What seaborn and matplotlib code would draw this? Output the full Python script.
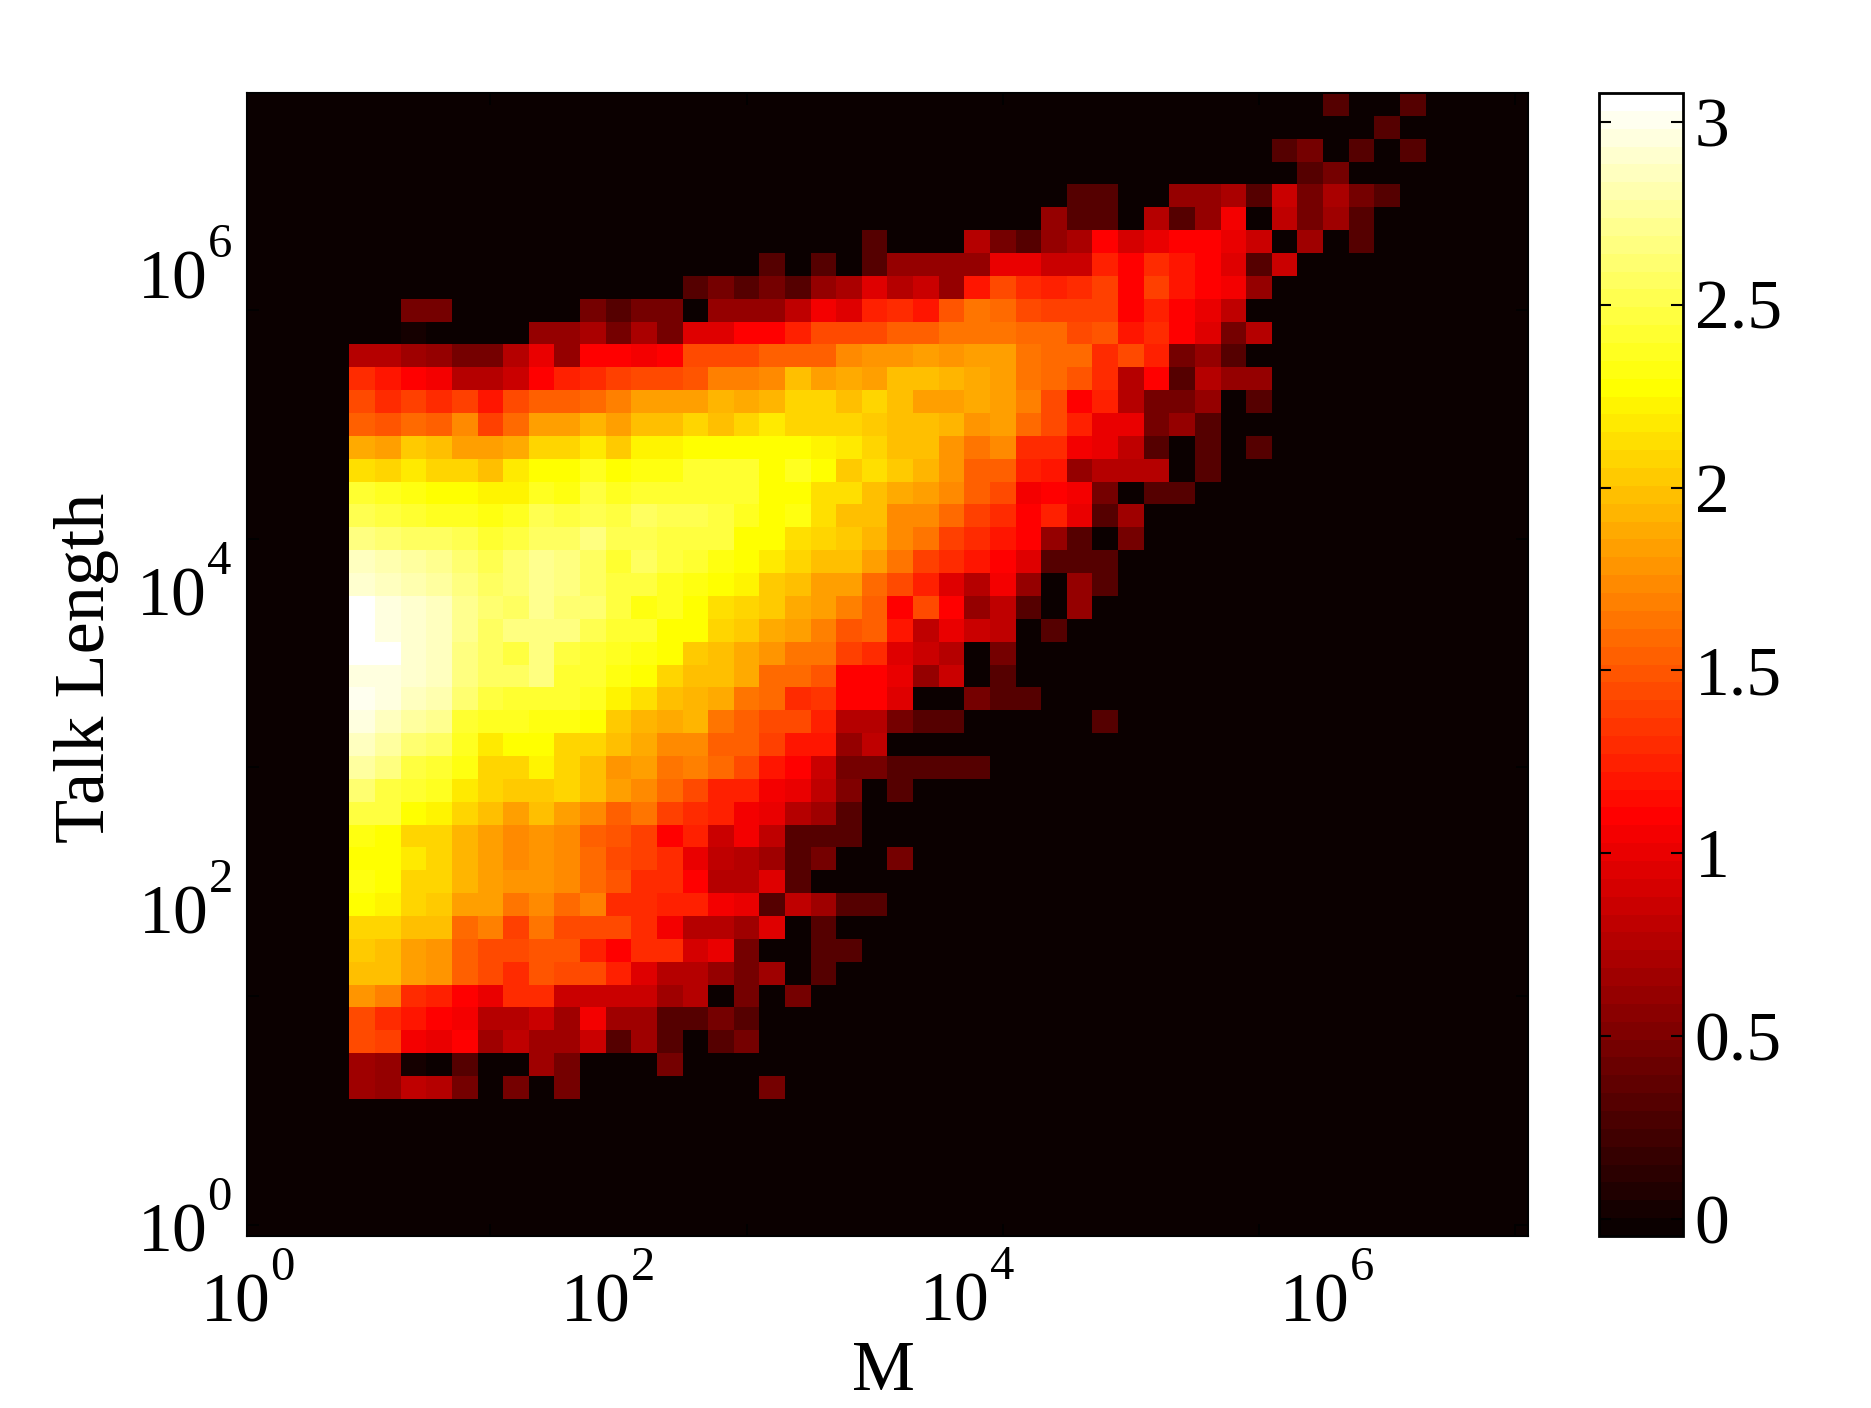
import numpy as np
import pandas as pd
import matplotlib
matplotlib.use("Agg")
import matplotlib.pyplot as plt
from matplotlib.colors import ListedColormap
from matplotlib import _mathtext
import seaborn as sns

# log10(count) per bin: row (from top) -> (first column, values from that column on)
bins = {
 0: (42, [.3,0,0,.3]),
 1: (44, [.3]),
 2: (40, [.3,.48,0,.3,0,.3]),
 3: (41, [.3,.48]),
 4: (32, [.3,.3,0,0,.6,.6,.72,.3,.85,.48,.72,.48,.3]),
 5: (31, [.6,.3,.3,0,.75,.3,.62,1.04,0,.8,.48,.68,.3]),
 6: (24, [.3,0,0,0,.75,.48,.3,.6,.72,1.1,.92,1.02,1.1,1.1,1.02,.88,0,.65,0,.3]),
 7: (20, [.3,0,.3,0,.3,.6,.6,.6,.6,.98,.98,.88,.88,1.25,1.1,1.3,1.2,1.1,.95,.3,.88]),
 8: (17, [.3,.48,.3,.48,.3,.6,.72,.95,.75,.85,.6,1.2,1.42,1.28,1.25,1.32,1.38,1.1,1.38,1.2,1.1,1.04,.62]),
 9: (6, [.48,.45,0,0,0,0,0,.48,.3,.48,.48,0,.6,.6,.6,.8,1.04,.95,1.25,1.28,1.2,1.49,1.63,1.6,1.46,1.38,1.38,1.38,1.1,1.25,1.1,1.02,.8]),
 10: (6, [.03,0,0,0,0,.6,.6,.72,.48,.72,.48,.95,.95,1.1,1.1,1.25,1.42,1.46,1.42,1.52,1.52,1.65,1.65,1.65,1.6,1.6,1.42,1.49,1.2,1.3,1.1,.95,.45,.75]),
 11: (4, [.78,.78,.65,.6,.48,.48,.78,1.0,.6,1.1,1.1,1.04,1.1,1.42,1.42,1.42,1.56,1.56,1.52,1.75,1.78,1.78,1.85,1.78,1.85,1.82,1.65,1.6,1.6,1.32,1.42,1.25,.48,.62,.3]),
 12: (4, [1.28,1.2,1.1,1.04,.78,.78,.88,1.1,1.25,1.28,1.38,1.42,1.42,1.49,1.71,1.71,1.75,1.96,1.85,1.88,1.85,1.96,2.0,1.92,1.88,1.85,1.63,1.6,1.49,1.28,.75,1.1,.3,.75,.62,.62]),
 13: (4, [1.42,1.32,1.38,1.3,1.38,1.18,1.42,1.56,1.56,1.6,1.71,1.82,1.82,1.82,1.92,1.88,1.92,2.06,2.06,2.0,2.1,2.0,1.85,1.82,1.88,1.82,1.71,1.42,1.1,1.25,.75,.48,.48,.62,0,.3]),
 14: (4, [1.56,1.49,1.6,1.52,1.75,1.38,1.6,1.82,1.82,1.92,1.85,1.96,1.96,2.06,2.0,2.1,2.17,2.1,2.1,2.06,2.03,2.0,1.96,1.92,1.78,1.82,1.6,1.42,1.25,1.02,1.02,.48,.6,.3]),
 15: (4, [1.88,1.85,2.03,2.0,1.85,1.85,1.88,2.06,2.06,2.17,2.03,2.2,2.2,2.28,2.25,2.25,2.25,2.25,2.22,2.17,2.06,2.0,1.96,1.78,1.63,1.75,1.32,1.28,1.04,1.0,.8,.3,0,.3,0,.3]),
 16: (4, [2.14,2.06,2.17,2.1,2.1,2.0,2.17,2.28,2.28,2.36,2.28,2.33,2.33,2.4,2.4,2.4,2.28,2.36,2.28,2.03,2.14,2.03,1.92,1.78,1.56,1.52,1.25,1.2,.62,.75,.75,.78,0,.3]),
 17: (4, [2.4,2.36,2.33,2.28,2.28,2.2,2.2,2.36,2.33,2.48,2.36,2.4,2.4,2.4,2.4,2.4,2.28,2.28,2.14,2.14,2.0,1.88,1.85,1.75,1.56,1.42,1.04,1.1,1.04,.48,0,.3,.3]),
 18: (4, [2.52,2.48,2.4,2.36,2.36,2.3,2.36,2.52,2.48,2.52,2.48,2.57,2.52,2.52,2.48,2.36,2.28,2.33,2.14,1.96,1.96,1.75,1.75,1.6,1.38,1.28,1.1,1.25,.98,.3,.65]),
 19: (4, [2.67,2.62,2.57,2.57,2.52,2.4,2.48,2.57,2.57,2.65,2.52,2.52,2.48,2.48,2.48,2.28,2.28,2.14,2.06,2.03,1.92,1.75,1.63,1.38,1.28,1.2,1.1,.62,.3,0,.48]),
 20: (4, [2.86,2.81,2.76,2.71,2.62,2.52,2.62,2.71,2.67,2.57,2.4,2.57,2.48,2.4,2.33,2.28,2.17,2.06,1.96,1.96,1.85,1.63,1.38,1.32,1.2,1.1,.95,.3,.3,.3]),
 21: (4, [2.9,2.86,2.81,2.76,2.67,2.57,2.62,2.71,2.67,2.57,2.48,2.48,2.36,2.33,2.28,2.2,2.03,2.0,1.85,1.85,1.6,1.42,1.25,.95,.75,1.04,.6,0,.62,.3]),
 22: (4, [3.05,2.96,2.9,2.86,2.71,2.62,2.57,2.71,2.62,2.62,2.48,2.33,2.36,2.28,2.14,2.1,2.03,1.88,1.82,1.71,1.52,1.1,1.42,1.1,.62,.8,.3,0,.62]),
 23: (4, [3.05,2.98,2.92,2.88,2.71,2.57,2.67,2.67,2.67,2.52,2.4,2.4,2.28,2.28,2.06,2.03,1.88,1.82,1.7,1.5,1.56,1.2,.8,.98,.88,.8,0,.3]),
 24: (4, [3.05,3.05,2.9,2.88,2.67,2.57,2.48,2.67,2.48,2.4,2.36,2.33,2.28,2.03,2.0,1.88,1.78,1.63,1.63,1.4,1.3,.95,.88,.75,0,.48]),
 25: (4, [2.98,2.98,2.9,2.86,2.67,2.57,2.57,2.67,2.4,2.4,2.33,2.28,2.06,2.0,2.0,1.88,1.6,1.6,1.47,1.08,1.1,1.02,.62,.88,0,.3]),
 26: (4, [3.0,2.96,2.86,2.81,2.62,2.48,2.4,2.4,2.4,2.36,2.2,2.14,1.96,1.92,1.88,1.65,1.6,1.3,1.36,1.1,1.1,.95,0,0,.48,.3,.3]),
 27: (4, [2.95,2.88,2.76,2.71,2.4,2.36,2.36,2.33,2.33,2.28,2.03,1.92,1.88,1.92,1.63,1.56,1.46,1.46,1.25,.78,.75,.45,.3,.3,0,0,0,0,0,.3]),
 28: (4, [2.86,2.76,2.62,2.57,2.36,2.17,2.28,2.28,2.1,2.06,1.97,1.88,1.75,1.75,1.56,1.56,1.38,1.2,1.18,.62,.8]),
 29: (4, [2.76,2.67,2.48,2.4,2.33,2.1,2.06,2.2,2.1,1.96,1.78,1.85,1.63,1.71,1.6,1.46,1.18,1.1,.88,.45,.45,.3,.3,.3,.3]),
 30: (4, [2.62,2.48,2.4,2.36,2.17,2.06,2.03,2.03,2.06,1.96,1.85,1.75,1.6,1.46,1.25,1.25,1.04,1.0,.8,.5,0,.3]),
 31: (4, [2.48,2.48,2.28,2.2,2.06,2.0,1.82,1.96,1.82,1.75,1.52,1.63,1.38,1.3,1.25,1.04,1.0,.78,.65,.3]),
 32: (4, [2.33,2.28,2.1,2.1,1.92,1.85,1.75,1.78,1.75,1.56,1.49,1.38,1.1,1.25,.88,1.04,.8,.3,.3,.3]),
 33: (4, [2.28,2.28,2.17,2.1,1.92,1.85,1.75,1.78,1.75,1.6,1.46,1.38,1.28,1.02,.8,.78,.65,.3,.48,0,0,.48]),
 34: (4, [2.33,2.28,2.06,2.06,1.92,1.82,1.78,1.78,1.75,1.6,1.49,1.3,1.28,1.1,.78,.78,.95,.3]),
 35: (4, [2.28,2.2,2.06,2.03,1.85,1.85,1.65,1.75,1.6,1.71,1.32,1.32,1.25,1.25,1.04,1.0,.3,.8,.65,.3,.3]),
 36: (4, [2.1,2.06,2.0,2.0,1.6,1.71,1.38,1.65,1.46,1.46,1.46,1.32,1.04,.78,.78,.65,.95,0,.3]),
 37: (4, [2.03,2.0,1.82,1.78,1.56,1.46,1.46,1.49,1.49,1.25,1.1,1.28,1.32,.92,1.0,.48,0,0,.3,.3]),
 38: (4, [2.0,2.0,1.82,1.78,1.56,1.46,1.28,1.49,1.42,1.46,1.25,.95,.78,.78,.6,.48,.65,0,.3]),
 39: (4, [1.78,1.71,1.28,1.25,1.1,1.02,1.28,1.28,.88,.88,.88,.88,.65,.78,0,.48,0,.48]),
 40: (4, [1.42,1.32,1.2,1.1,1.04,.78,.78,.88,.65,1.04,.65,.65,.3,.3,.48,.3]),
 41: (4, [1.46,1.38,1.04,1.0,1.1,.65,.8,.65,.65,.88,.3,.65,.3,0,.3,.48]),
 42: (4, [.65,.6,.03,0,.3,0,0,.65,.48,0,0,0,.48]),
 43: (4, [.65,.6,.8,.78,.48,0,.48,0,.48,0,0,0,0,0,0,0,.48]),
}
n_bins = 50
power_labels = ["0", "2", "4", "6"]
cbar_ticks = [0, 0.5, 1, 1.5, 2, 2.5, 3]
cbar_labels = ["0", "0.5", "1", "1.5", "2", "2.5", "3"]
x_name = "M"
y_name = "Talk Length"

grid = np.zeros((n_bins, n_bins))
for row, (first, values) in bins.items():
    grid[row, first:first + len(values)] = values
frame = pd.DataFrame(grid)

# MATLAB-style 64-level hot map
lv = np.arange(1, 65)
hot64 = ListedColormap(np.column_stack([
    np.clip(lv / 24, 0, 1),
    np.clip((lv - 24) / 24, 0, 1),
    np.clip((lv - 48) / 16, 0, 1),
]))

W, H = 1871, 1408
plt.rcParams["font.family"] = ["Liberation Serif", "DejaVu Serif"]
plt.rcParams["mathtext.fontset"] = "custom"
plt.rcParams["mathtext.rm"] = "Liberation Serif"
plt.rcParams["mathtext.it"] = "Liberation Serif"
plt.rcParams["mathtext.bf"] = "Liberation Serif"
# the exponents sit clear above the base in the reference
_mathtext.FontConstantsBase.sup1 = 1.28

fig = plt.figure(figsize=(W / 100, H / 100), dpi=100)
L, R, T, B = 247, 1528, 93, 1236
ax = fig.add_axes([L / W, 1 - B / H, (R - L) / W, (B - T) / H])
cax = fig.add_axes([1599 / W, 1 - B / H, 84 / W, (B - T) / H])

sns.heatmap(frame, ax=ax, cbar_ax=cax, cmap=hot64, vmin=-0.047, vmax=3.079,
            xticklabels=False, yticklabels=False,
            cbar_kws={"ticks": cbar_ticks})
ax.collections[0].set_antialiased(False)

for s in ax.spines.values():
    s.set_visible(True)
    s.set_color("black")
    s.set_linewidth(1.5)

# near-invisible black ticks every ten bins, on all four sides
ax.set_xticks(np.arange(9.5, 50, 10))
ax.set_yticks(np.arange(9.5, 50, 10))
ax.tick_params(which="major", direction="in", length=8.6, width=1.2, color="black",
               top=True, right=True, left=True, bottom=True,
               labelleft=False, labelbottom=False)

labels = [rf"$\mathdefault{{10^{{{p}}}}}$" for p in power_labels]
ax.set_xticks([0.0, 14.05, 28.1, 42.15], labels=labels, minor=True)
ax.set_yticks([49.32, 35.41, 21.51, 7.61], labels=labels, minor=True)
ax.tick_params(which="minor", length=0, labelsize=50, pad=16,
               labelbottom=True, labelleft=True)
ax.tick_params(axis="y", which="minor", pad=11)

ax.set_xlabel(x_name, fontsize=51)
ax.xaxis.label.set_va("baseline")
ax.xaxis.set_label_coords(0.497, -(1390 - B) / (B - T))
ax.set_ylabel(y_name, fontsize=52)
ax.yaxis.label.set_va("center")
ax.yaxis.set_label_coords((87 - L) / (R - L), 0.497)

cbar = ax.collections[0].colorbar
cbar.set_ticks(cbar_ticks, labels=cbar_labels)
cbar.outline.set_visible(True)
cbar.outline.set_edgecolor("black")
cbar.outline.set_linewidth(2.0)
cax.tick_params(which="major", direction="in", length=8.6, width=1.5, color="black",
                left=True, right=True, labelsize=50, pad=8.5)

fig.savefig("out.png", dpi=100, facecolor="white")
